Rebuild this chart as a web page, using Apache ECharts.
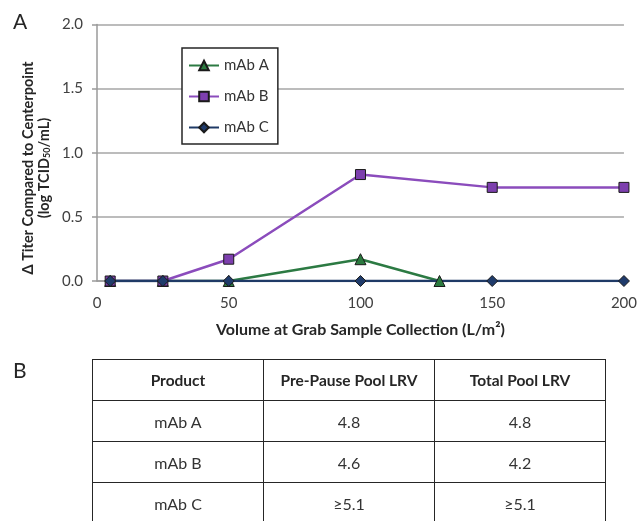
<!DOCTYPE html>
<html>
<head>
<meta charset="utf-8">
<script src="https://cdn.jsdelivr.net/npm/echarts@6/dist/echarts.min.js"></script>
<style>
  html, body { margin: 0; padding: 0; background: #fff; }
  #wrap { position: relative; width: 640px; height: 521px; overflow: hidden; }
  #chart { position: absolute; left: 0; top: 0; width: 640px; height: 521px; }
  #lrv {
    position: absolute; left: 92px; top: 359px;
    border-collapse: collapse; font-family: Lato, "Open Sans", sans-serif;
    font-size: 16px; color: #333;
  }
  #lrv th, #lrv td {
    border: 1.8px solid #262626; width: 170px; height: 40px;
    text-align: center; padding: 0;
  }
  #lrv th { font-weight: bold; font-size: 15.5px; color: #262626; }
  .panel { position: absolute; font-family: Lato, "Open Sans", sans-serif; font-size: 21px; color: #262626; }
</style>
</head>
<body>
<div id="wrap">
  <div id="chart"></div>
  <div class="panel" style="left:13px; top:357px;">B</div>
  <table id="lrv"></table>
</div>
<script>
// Grab-sample volumes (L/m2) and change in titer vs. centerpoint (log TCID50/mL)
const volumesA = [5, 25, 50, 100, 130];
const titerA   = [0, 0, 0, 0.17, 0];
const volumesB = [5, 25, 50, 100, 150, 200];
const titerB   = [0, 0, 0.17, 0.83, 0.73, 0.73];
const volumesC = [5, 25, 50, 100, 150, 200];
const titerC   = [0, 0, 0, 0, 0, 0];

const seriesNames = ['mAb A', 'mAb B', 'mAb C'];

// LRV summary table
const tableHeader = ['Product', 'Pre-Pause Pool LRV', 'Total Pool LRV'];
const products    = ['mAb A', 'mAb B', 'mAb C'];
const prePauseLRV = ['4.8', '4.6', '≥5.1'];
const totalLRV    = ['4.8', '4.2', '≥5.1'];

const pairs = (xs, ys) => xs.map((x, i) => [x, ys[i]]);
const FONT = 'Lato, "Open Sans", sans-serif';

const chart = echarts.init(document.getElementById('chart'), null, { renderer: 'canvas' });

function lineSeries(name, data, color, fill, symbol, size) {
  return {
    name: name,
    type: 'line',
    data: data,
    symbol: symbol,
    symbolSize: size,
    showAllSymbol: true,
    lineStyle: { color: color, width: 2.5 },
    itemStyle: { color: fill, borderColor: '#1a1a1a', borderWidth: 1 },
    emphasis: { disabled: true },
    animation: false
  };
}

chart.setOption({
  animation: false,
  grid: { left: 97, right: 14, top: 24.5, bottom: 240, containLabel: false },
  xAxis: {
    type: 'value', min: 0, max: 200, interval: 50,
    axisLine: { show: true, lineStyle: { color: '#9a9a9a', width: 1.5 } },
    axisTick: { show: false },
    splitLine: { show: false },
    axisLabel: { color: '#404040', fontSize: 15, fontFamily: FONT, margin: 15 },
    name: 'Volume at Grab Sample Collection (L/m²)',
    nameLocation: 'middle', nameGap: 41,
    nameTextStyle: { color: '#262626', fontSize: 16, fontWeight: 'bold', fontFamily: FONT }
  },
  yAxis: {
    type: 'value', min: 0, max: 2, interval: 0.5,
    axisLine: { show: true, lineStyle: { color: '#9a9a9a', width: 1.5 } },
    axisTick: { show: true, length: 5, lineStyle: { color: '#9a9a9a', width: 1.5 } },
    splitLine: { show: true, lineStyle: { color: '#a6a6a6', width: 1.5 } },
    axisLabel: {
      color: '#404040', fontSize: 15, fontFamily: FONT, margin: 14,
      formatter: v => v.toFixed(1)
    }
  },
  legend: {
    orient: 'vertical', left: 182, top: 48,
    data: seriesNames,
    itemWidth: 30, itemHeight: 12, itemGap: 16,
    padding: [10, 9, 9, 6],
    backgroundColor: '#fff',
    borderColor: '#262626', borderWidth: 1.5, borderRadius: 0,
    textStyle: { color: '#333', fontSize: 15, fontFamily: FONT },
    selectedMode: false
  },
  graphic: [
    {
      type: 'text', left: 13, top: 12,
      style: { text: 'A', fontSize: 21, fontFamily: FONT, fill: '#262626' }
    },
    {
      type: 'text', x: 36, y: 168, rotation: Math.PI / 2,
      style: {
        text: '{b|Δ Titer Compared to Centerpoint}\n{b|(log TCID}{s|50}{b|/mL)}',
        align: 'center', verticalAlign: 'middle',
        fill: '#262626',
        rich: {
          b: { fontSize: 14.5, fontWeight: 'bold', fontFamily: FONT, lineHeight: 16, fill: '#262626' },
          s: { fontSize: 9, fontWeight: 'bold', fontFamily: FONT, lineHeight: 16, fill: '#262626', verticalAlign: 'bottom', padding: [5, 0, 0, 0] }
        }
      }
    }
  ],
  series: [
    lineSeries('mAb A', pairs(volumesA, titerA), '#2c7a43', '#2b7a3f', 'triangle', 11),
    lineSeries('mAb B', pairs(volumesB, titerB), '#8b4cbc', '#7d3fae', 'rect', 10),
    lineSeries('mAb C', pairs(volumesC, titerC), '#1f3a66', '#1f3b6b', 'diamond', 11)
  ]
});

// Build the LRV table from the arrays above
const table = document.getElementById('lrv');
const head = table.insertRow();
tableHeader.forEach(h => {
  const th = document.createElement('th');
  th.textContent = h;
  head.appendChild(th);
});
products.forEach((p, i) => {
  const row = table.insertRow();
  [p, prePauseLRV[i], totalLRV[i]].forEach(v => {
    row.insertCell().textContent = v;
  });
});
</script>
</body>
</html>
